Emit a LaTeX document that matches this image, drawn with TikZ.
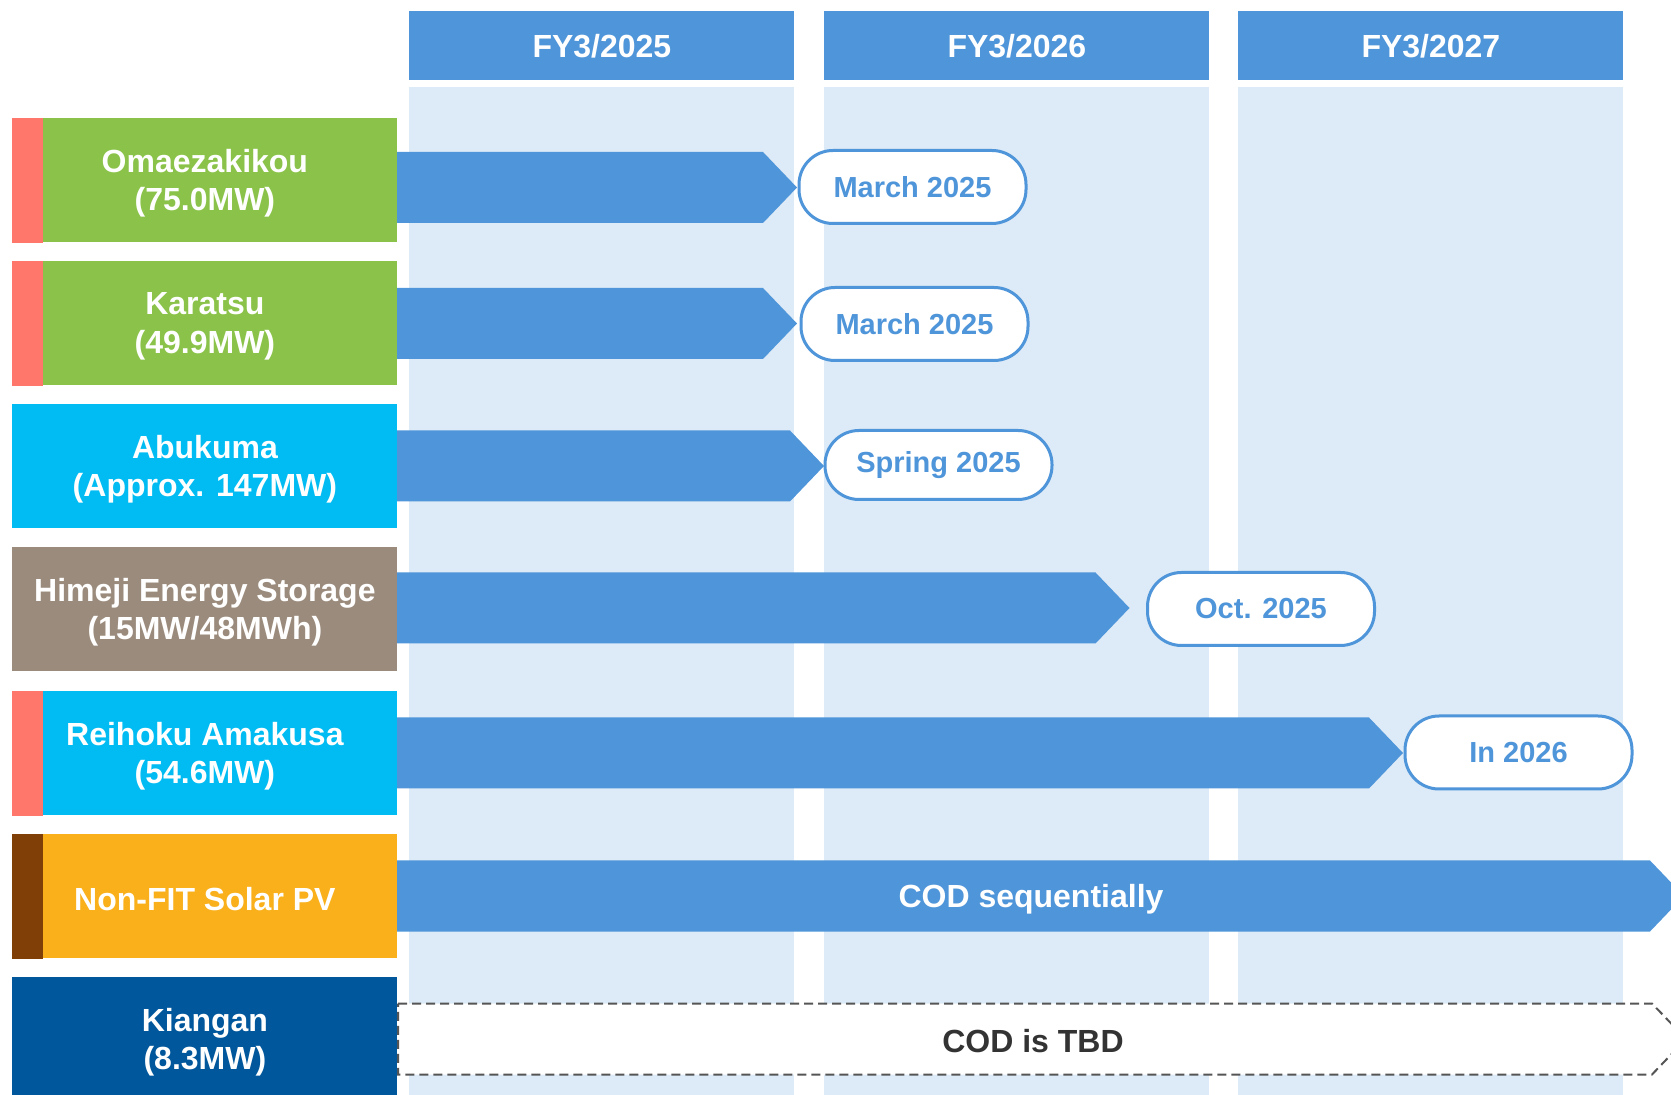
\documentclass[tikz,border=0pt]{standalone}
\usepackage{fontspec}
\setmainfont{Liberation Sans}
\definecolor{barblue}{HTML}{4F95D9}
\definecolor{colbg}{HTML}{DDEAF7}
\definecolor{lgreen}{HTML}{8BC34A}
\definecolor{salmon}{HTML}{FF766A}
\definecolor{skycyan}{HTML}{00BCF2}
\definecolor{taupe}{HTML}{9B8B7C}
\definecolor{amber}{HTML}{F9B01B}
\definecolor{darkbrown}{HTML}{7F3F06}
\definecolor{navy}{HTML}{00579B}
\definecolor{tbdgray}{HTML}{555555}
\begin{document}
\begin{tikzpicture}[x=0.5pt,y=-0.5pt,
  header/.style={fill=barblue, text=white, font=\bfseries\fontsize{16}{19}\selectfont, minimum width=192.5pt, minimum height=34.5pt, inner sep=0pt, anchor=north west},
  labelbox/.style={minimum width=192.5pt, minimum height=62pt, inner sep=0pt, anchor=north west},
  labeltext/.style={text=white, font=\bfseries\fontsize{16}{19.2}\selectfont, align=center, inner sep=0pt},
  bar/.style={fill=barblue},
  pill/.style={draw=barblue, line width=1.5pt, fill=white, rounded corners=17pt, text=barblue, font=\bfseries\fontsize{14.5}{17}\selectfont, minimum width=113.5pt, minimum height=36.5pt, inner sep=0pt},
  bartext/.style={text=white, font=\bfseries\fontsize{16}{19}\selectfont},
  tbdtext/.style={text=black!80, font=\bfseries\fontsize{16}{19}\selectfont}
]
\useasboundingbox (0,0) rectangle (1671,1095);
\clip (0,0) rectangle (1671,1095);
% columns
\foreach \cx in {409,824,1238}{
  \fill[colbg] (\cx,87) rectangle (\cx+385,1095);
}
\node[header] (h1) at (409,11) {FY3/2025};
\node[header] (h2) at (824,11) {FY3/2026};
\node[header] (h3) at (1238,11) {FY3/2027};
% label boxes
\node[labelbox, fill=lgreen] (l1) at (12,118) {};
\fill[salmon] (l1.north west) rectangle ([xshift=15.5pt]l1.south west);
\node[labeltext] (t1) at ([yshift=-1.5pt]l1.center) {Omaezakikou\\(75.0MW)};
\node[labelbox, fill=lgreen] (l2) at (12,261) {};
\fill[salmon] (l2.north west) rectangle ([xshift=15.5pt]l2.south west);
\node[labeltext] (t2) at ([yshift=-1.5pt]l2.center) {Karatsu\\(49.9MW)};
\node[labelbox, fill=skycyan] (l3) at (12,404) {};
\node[labeltext] (t3) at ([yshift=-1.5pt]l3.center) {Abukuma\\(Approx. 147MW)};
\node[labelbox, fill=taupe] (l4) at (12,547) {};
\node[labeltext] (t4) at ([yshift=-1.5pt]l4.center) {Himeji Energy Storage\\(15MW/48MWh)};
\node[labelbox, fill=skycyan] (l5) at (12,691) {};
\fill[salmon] (l5.north west) rectangle ([xshift=15.5pt]l5.south west);
\node[labeltext] (t5) at ([yshift=-1.5pt]l5.center) {Reihoku Amakusa\\(54.6MW)};
\node[labelbox, fill=amber] (l6) at (12,834) {};
\fill[darkbrown] (l6.north west) rectangle ([xshift=15.5pt]l6.south west);
\node[labeltext] (t6) at ([yshift=-1.5pt]l6.center) {Non-FIT Solar PV};
\node[labelbox, fill=navy] (l7) at (12,977) {};
\node[labeltext] (t7) at ([yshift=-1.5pt]l7.center) {Kiangan\\(8.3MW)};
% bars
\foreach \yc/\xe in {187.5/763, 323.5/763, 466/790, 608/1095.5, 753/1369, 896/1650}{
  \fill[bar] (397,\yc-35.5) -- (\xe,\yc-35.5) -- (\xe+34,\yc) -- (\xe,\yc+35.5) -- (397,\yc+35.5) -- cycle;
}
\draw[tbdgray, fill=white, line width=1pt, dash pattern=on 4.5pt off 2.5pt]
  (398,1003.5) -- (1652,1003.5) -- (1686,1039) -- (1652,1074.5) -- (398,1074.5) -- cycle;
% pills
\node[pill] (p1) at (912.5,187) {\raisebox{-0.6pt}{March 2025}};
\node[pill] (p2) at (914.5,324) {\raisebox{-0.6pt}{March 2025}};
\node[pill, minimum height=34.5pt] (p3) at (938.5,465) {\raisebox{-0.6pt}{Spring 2025}};
\node[pill] (p4) at (1261,609) {\raisebox{-0.6pt}{Oct. 2025}};
\node[pill] (p5) at (1518.5,752.5) {\raisebox{-0.6pt}{In 2026}};
\node[bartext] (b6) at ([yshift=-1.8pt]1031,896) {COD sequentially};
\node[tbdtext] (b7) at ([yshift=-1pt]1033,1039) {COD is TBD};
\end{tikzpicture}
\end{document}
